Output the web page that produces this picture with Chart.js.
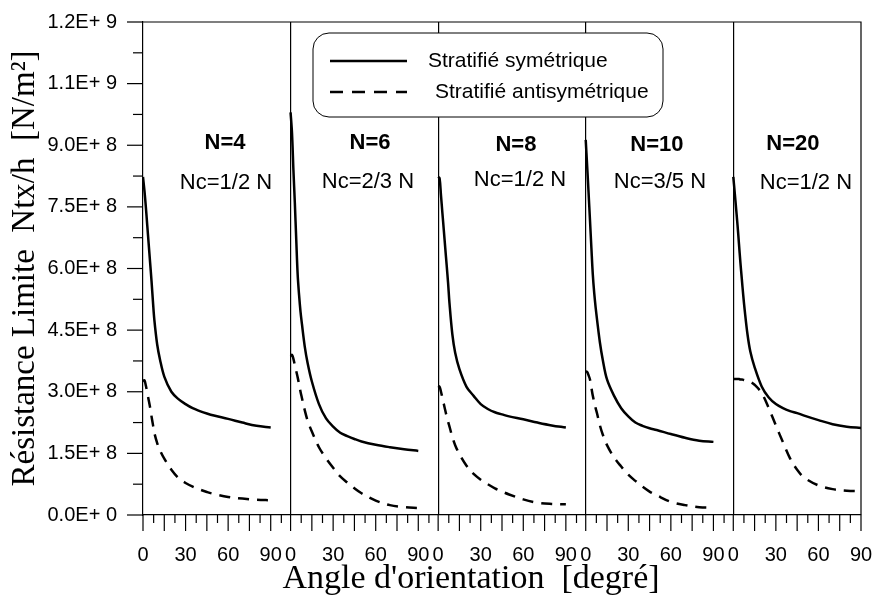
<!DOCTYPE html>
<html>
<head>
<meta charset="utf-8">
<script src="https://cdn.jsdelivr.net/npm/chart.js@4.4.1/dist/chart.umd.min.js"></script>
<style>
  html, body { margin: 0; padding: 0; background: #fff; }
  canvas { display: block; }
</style>
</head>
<body>
<canvas id="resistanceChart" width="876" height="599"></canvas>
<script>
// orientation angle, degrees
const angles = [0, 1, 2, 3, 4, 5, 6, 7, 8, 10, 12, 15, 20, 25, 30, 35, 40, 45, 50, 60, 70, 80, 90];

// Ntx/h, in units of 1E+8 N/m2 - symmetric laminate
const symN4  = [8.23, 7.9, 7.5, 7.05, 6.6, 6.15, 5.7, 5.2, 4.75, 4.15, 3.78, 3.37, 3.0, 2.82, 2.7, 2.6, 2.53, 2.47, 2.42, 2.34, 2.25, 2.17, 2.13];
const symN6  = [9.8, 9.3, 8.4, 7.6, 6.7, 5.85, 5.35, 4.95, 4.65, 4.1, 3.7, 3.25, 2.7, 2.35, 2.15, 2.0, 1.92, 1.85, 1.79, 1.71, 1.65, 1.6, 1.56];
const symN8  = [8.23, 8.2, 7.78, 7.35, 6.93, 6.5, 6.08, 5.65, 5.15, 4.4, 3.95, 3.55, 3.12, 2.9, 2.7, 2.58, 2.5, 2.45, 2.4, 2.33, 2.25, 2.18, 2.13];
const symN10 = [9.13, 8.5, 7.85, 7.18, 6.5, 5.85, 5.4, 5.05, 4.75, 4.2, 3.78, 3.3, 2.9, 2.6, 2.4, 2.25, 2.17, 2.11, 2.07, 1.97, 1.88, 1.81, 1.78];
const symN20 = [8.23, 7.85, 7.45, 7.05, 6.6, 6.15, 5.75, 5.35, 5.0, 4.4, 3.98, 3.6, 3.13, 2.86, 2.7, 2.6, 2.53, 2.48, 2.42, 2.31, 2.21, 2.15, 2.12];

// antisymmetric laminate
const antiN4  = [3.25, 3.28, 3.15, 2.98, 2.8, 2.62, 2.4, 2.2, 2.0, 1.75, 1.57, 1.37, 1.1, 0.9, 0.78, 0.69, 0.62, 0.56, 0.51, 0.44, 0.4, 0.37, 0.36];
const antiN6  = [3.87, 3.9, 3.8, 3.65, 3.5, 3.35, 3.18, 3.0, 2.85, 2.55, 2.3, 2.03, 1.65, 1.38, 1.15, 0.94, 0.79, 0.65, 0.53, 0.35, 0.24, 0.19, 0.17];
const antiN8  = [3.14, 3.12, 3.0, 2.85, 2.7, 2.55, 2.4, 2.27, 2.15, 1.9, 1.7, 1.48, 1.2, 1.0, 0.86, 0.75, 0.65, 0.57, 0.5, 0.38, 0.3, 0.27, 0.26];
const antiN10 = [3.5, 3.48, 3.4, 3.3, 3.1, 2.9, 2.75, 2.6, 2.47, 2.18, 1.96, 1.7, 1.4, 1.18, 0.98, 0.83, 0.69, 0.57, 0.48, 0.32, 0.24, 0.19, 0.18];
const antiN20 = [3.31, 3.31, 3.31, 3.31, 3.31, 3.3, 3.3, 3.29, 3.28, 3.27, 3.24, 3.17, 2.97, 2.6, 2.18, 1.77, 1.38, 1.1, 0.91, 0.72, 0.63, 0.59, 0.58];

const panelTitles = ["N=4", "N=6", "N=8", "N=10", "N=20"];
const panelNc = ["Nc=1/2 N", "Nc=2/3 N", "Nc=1/2 N", "Nc=3/5 N", "Nc=1/2 N"];
const angleTickLabels = [0, 30, 60, 90];
const yTickLabels = ["0.0E+ 0", "1.5E+ 8", "3.0E+ 8", "4.5E+ 8", "6.0E+ 8", "7.5E+ 8", "9.0E+ 8", "1.1E+ 9", "1.2E+ 9"];
const seriesNames = ["Stratifié symétrique", "Stratifié antisymétrique"];

const PANEL = 104;          // width of one panel on the shared x axis, in degrees
const YMAX = 1.2e9;
const YSTEP = 1.5e8;

// where the N / Nc texts sit in each panel: [angle, value] pairs
const labelSpots = [
    [[57.8, 9.05e8], [58.5, 8.08e8]],
    [[56, 9.05e8], [54.5, 8.1e8]],
    [[54.8, 9.0e8], [57.7, 8.15e8]],
    [[50.2, 9.0e8], [52.3, 8.1e8]],
    [[42, 9.02e8], [51.2, 8.08e8]]
];

const sym = [symN4, symN6, symN8, symN10, symN20];
const anti = [antiN4, antiN6, antiN8, antiN10, antiN20];

function toPoints(vals, k) {
    return angles.map((a, i) => ({ x: a + k * PANEL, y: vals[i] * 1e8 }));
}

const datasets = [];
sym.forEach((vals, k) => {
    datasets.push({
        label: seriesNames[0],
        data: toPoints(vals, k),
        borderColor: "#000",
        borderWidth: 2.5,
        pointRadius: 0,
        tension: 0.35,
        fill: false
    });
});
anti.forEach((vals, k) => {
    datasets.push({
        label: seriesNames[1],
        data: toPoints(vals, k),
        borderColor: "#000",
        borderWidth: 2.5,
        borderDash: [11, 8],
        pointRadius: 0,
        tension: 0.35,
        fill: false
    });
});

const xTicks = [];
for (let k = 0; k < 5; k++) {
    angleTickLabels.forEach(a => xTicks.push({ value: a + k * PANEL, label: String(a) }));
}

function noScalePadding(s) {
    s.paddingLeft = 0;
    s.paddingRight = 0;
    s.paddingTop = 0;
    s.paddingBottom = 0;
}

const decorPlugin = {
    id: "decor",
    afterDraw(chart) {
        const { ctx, chartArea: a, scales: { x, y } } = chart;
        ctx.save();
        ctx.strokeStyle = "#000";
        ctx.lineWidth = 1.2;

        // top and right frame
        ctx.beginPath();
        ctx.moveTo(a.left, a.top);
        ctx.lineTo(a.right, a.top);
        ctx.lineTo(a.right, a.bottom);
        ctx.stroke();

        // y tick marks, major and minor
        for (let i = 0; i <= 16; i++) {
            const py = y.getPixelForValue(i * YSTEP / 2);
            const len = i % 2 === 0 ? 16 : 10;
            ctx.beginPath();
            ctx.moveTo(a.left - len, py);
            ctx.lineTo(a.left, py);
            ctx.stroke();
        }

        // x tick marks for every panel
        for (let k = 0; k < 5; k++) {
            const maxA = k < 4 ? PANEL - 0.1 : 90;
            for (let ang = 0; ang <= maxA; ang += 7.5) {
                const px = x.getPixelForValue(ang + k * PANEL);
                const len = ang % 15 === 0 ? 16 : 8;
                ctx.beginPath();
                ctx.moveTo(px, a.bottom);
                ctx.lineTo(px, a.bottom + len);
                ctx.stroke();
            }
        }

        // panel texts
        ctx.fillStyle = "#000";
        ctx.textAlign = "center";
        ctx.textBaseline = "middle";
        labelSpots.forEach((spots, k) => {
            ctx.font = "bold 22px 'Liberation Sans', Arial, sans-serif";
            ctx.fillText(panelTitles[k], x.getPixelForValue(spots[0][0] + k * PANEL), y.getPixelForValue(spots[0][1]));
            ctx.font = "22px 'Liberation Sans', Arial, sans-serif";
            ctx.fillText(panelNc[k], x.getPixelForValue(spots[1][0] + k * PANEL), y.getPixelForValue(spots[1][1]));
        });

        // legend box
        const bx = 313, by = 33, bw = 350, bh = 84;
        ctx.beginPath();
        ctx.roundRect(bx, by, bw, bh, 16);
        ctx.fillStyle = "#fff";
        ctx.fill();
        ctx.lineWidth = 1;
        ctx.stroke();

        ctx.lineWidth = 2.5;
        ctx.beginPath();
        ctx.moveTo(bx + 17, by + 28);
        ctx.lineTo(bx + 94, by + 28);
        ctx.stroke();
        ctx.setLineDash([13, 9]);
        ctx.beginPath();
        ctx.moveTo(bx + 17, by + 59);
        ctx.lineTo(bx + 94, by + 59);
        ctx.stroke();
        ctx.setLineDash([]);

        ctx.fillStyle = "#000";
        ctx.font = "21px 'Liberation Sans', Arial, sans-serif";
        ctx.textAlign = "left";
        ctx.fillText(seriesNames[0], bx + 115, by + 28);
        ctx.fillText(seriesNames[1], bx + 122, by + 59);

        // x axis title
        ctx.font = "34px 'Liberation Serif', 'Times New Roman', serif";
        ctx.textAlign = "center";
        ctx.textBaseline = "alphabetic";
        ctx.fillText("Angle d'orientation  [degré]", 471, 588);

        ctx.restore();
    }
};

new Chart(document.getElementById("resistanceChart"), {
    type: "line",
    data: { datasets },
    options: {
        responsive: false,
        animation: false,
        layout: {
            padding: { top: 22, right: 15, left: 0, bottom: 0 }
        },
        plugins: {
            legend: { display: false },
            tooltip: { enabled: false }
        },
        scales: {
            x: {
                type: "linear",
                min: 0,
                max: 4 * PANEL + 90,
                afterFit: s => { s.height = 84; noScalePadding(s); },
                afterBuildTicks: s => { s.ticks = xTicks.map(t => ({ value: t.value })); },
                ticks: {
                    autoSkip: false,
                    maxRotation: 0,
                    minRotation: 0,
                    padding: 28,
                    color: "#000",
                    font: { family: "'Liberation Sans', Arial, sans-serif", size: 20 },
                    callback: (v, i) => xTicks[i].label
                },
                grid: {
                    drawTicks: false,
                    lineWidth: 1.2,
                    color: c => (c.tick && c.tick.value > 0 && c.tick.value % PANEL === 0) ? "#000" : "rgba(0,0,0,0)"
                },
                border: { display: true, color: "#000", width: 1.2 }
            },
            y: {
                min: 0,
                max: YMAX,
                afterFit: s => { s.width = 143; noScalePadding(s); },
                ticks: {
                    stepSize: YSTEP,
                    padding: 26,
                    color: "#000",
                    font: { family: "'Liberation Sans', Arial, sans-serif", size: 20 },
                    callback: (v, i) => yTickLabels[i]
                },
                grid: { display: false, drawTicks: false },
                border: { display: true, color: "#000", width: 1.2 },
                title: {
                    display: true,
                    text: "Résistance Limite  Ntx/h  [N/m²]",
                    color: "#000",
                    padding: { top: 6, bottom: 0 },
                    font: { family: "'Liberation Serif', 'Times New Roman', serif", size: 33 }
                }
            }
        }
    },
    plugins: [decorPlugin]
});
</script>
</body>
</html>
